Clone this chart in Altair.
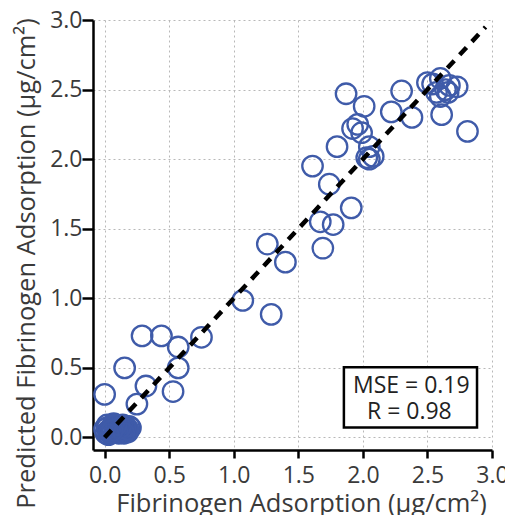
import altair as alt
import pandas as pd

# measured fibrinogen adsorption (x) vs predicted (y)
measured = [0.00, 0.02, 0.04, 0.06, 0.08, 0.10, 0.12, 0.14, 0.16, 0.18,
            0.20, 0.03, 0.07, 0.11, 0.15, 0.19, 0.01, 0.09, 0.13, 0.05,
            0.02, 0.05, 0.08, 0.11, 0.14, 0.17, 0.04, 0.10, 0.16, 0.07,
            0.12, 0.18, 0.03, 0.09, 0.15, 0.06,
            0.00, 0.155, 0.25, 0.32, 0.29, 0.44, 0.57, 0.57, 0.53, 0.75,
            1.07, 1.29, 1.26, 1.40, 1.69, 1.67, 1.77, 1.91, 1.74, 1.61,
            1.80, 1.92, 1.96, 1.99, 2.05, 2.08, 2.05, 2.03, 1.87, 2.01,
            2.22, 2.30, 2.38, 2.81, 2.61, 2.54, 2.60, 2.64, 2.67, 2.73,
            2.60, 2.57, 2.66, 2.50]
predicted = [0.06, 0.09, 0.03, 0.07, 0.04, 0.08, 0.05, 0.09, 0.06, 0.04,
             0.07, 0.05, 0.10, 0.03, 0.05, 0.08, 0.03, 0.06, 0.08, 0.06,
             0.07, 0.04, 0.08, 0.06, 0.07, 0.05, 0.05, 0.04, 0.08, 0.09,
             0.07, 0.06, 0.02, 0.09, 0.03, 0.05,
             0.31, 0.50, 0.24, 0.37, 0.73, 0.73, 0.65, 0.50, 0.33, 0.72,
             0.985, 0.885, 1.39, 1.26, 1.36, 1.55, 1.53, 1.65, 1.82, 1.95,
             2.09, 2.22, 2.25, 2.19, 2.09, 2.02, 2.00, 2.01, 2.47, 2.38,
             2.34, 2.49, 2.30, 2.20, 2.32, 2.54, 2.58, 2.50, 2.53, 2.52,
             2.45, 2.48, 2.48, 2.55]

line_x = [0.0, 2.95]
line_y = [0.0, 2.95]

box_x = [1.853, 2.884]
box_y = [0.072, 0.504]
stats_text = ["MSE = 0.19", "R = 0.98"]
stats_y = [0.372, 0.182]
stats_x = [2.375, 2.36]

ticks = [0.0, 0.5, 1.0, 1.5, 2.0, 2.5, 3.0]
dom = [-0.09, 3.0]

FONT = "Open Sans"
BLUE = "#3f5ba9"
GREY = "#3a3a3a"

pts = pd.DataFrame({"x": measured, "y": predicted})
ln = pd.DataFrame({"x": line_x, "y": line_y})
box = pd.DataFrame({"x": [box_x[0]], "x2": [box_x[1]], "y": [box_y[0]], "y2": [box_y[1]]})
txt = pd.DataFrame({"x": stats_x, "y": stats_y, "t": stats_text})

xscale = alt.Scale(domain=dom, nice=False, zero=False)
yscale = alt.Scale(domain=dom, nice=False, zero=False)

common = dict(values=ticks, format=".1f",
              labelFontSize=23, titleFontSize=25.5, labelFont=FONT, titleFont=FONT,
              labelFontWeight="normal", titleFontWeight="normal",
              labelColor=GREY, titleColor=GREY,
              tickWidth=2.5, tickColor="black",
              domainColor="black", domainWidth=2.5,
              grid=True, gridDash=[2, 3], gridColor="#b8b8b8", gridWidth=1,
              labelFlush=False)

xaxis = alt.Axis(title="Fibrinogen Adsorption (μg/cm²)", tickSize=8, labelPadding=6,
                 titleX=208, titleY=61, titleAlign="center", titleBaseline="alphabetic",
                 **common)
yaxis = alt.Axis(title="Predicted Fibrinogen Adsorption (μg/cm²)", tickSize=11, labelPadding=0,
                 titleX=-59, titleY=243, titleAlign="center", titleBaseline="alphabetic",
                 titleAngle=270,
                 **common)

points = alt.Chart(pts).mark_point(shape="circle", filled=False, size=420,
                                   strokeWidth=2.3, color=BLUE, opacity=1).encode(
    x=alt.X("x:Q", scale=xscale, axis=xaxis),
    y=alt.Y("y:Q", scale=yscale, axis=yaxis),
)

diag = alt.Chart(ln).mark_line(color="black", strokeWidth=4.5, strokeDash=[10, 8]).encode(
    x=alt.X("x:Q", scale=xscale), y=alt.Y("y:Q", scale=yscale)
)

rect = alt.Chart(box).mark_rect(fill="white", stroke="black", strokeWidth=2.5).encode(
    x=alt.X("x:Q", scale=xscale), x2="x2:Q",
    y=alt.Y("y:Q", scale=yscale), y2="y2:Q",
)

label = alt.Chart(txt).mark_text(font=FONT, fontSize=23, color="#222222",
                                 align="center", baseline="middle").encode(
    x=alt.X("x:Q", scale=xscale), y=alt.Y("y:Q", scale=yscale), text="t:N"
)

chart = alt.layer(points, diag, rect, label).properties(
    width=399, height=430,
    autosize=alt.AutoSizeParams(type="none"),
    padding={"left": 85, "top": 12, "right": 13, "bottom": 65},
).configure_view(stroke=None)

chart.save("out.html", embed_options={"renderer": "svg", "actions": False})
